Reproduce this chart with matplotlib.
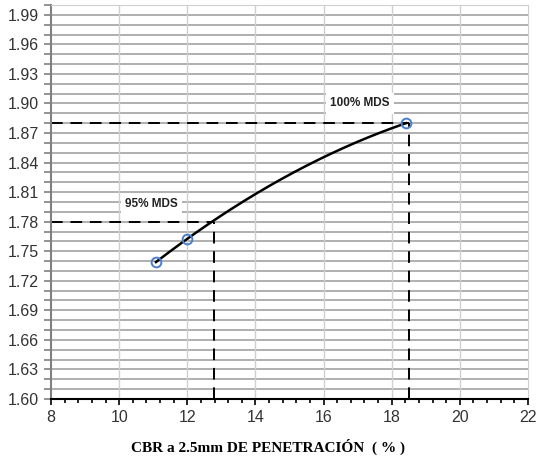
import numpy as np
import matplotlib
matplotlib.use("Agg")
import matplotlib.pyplot as plt
from matplotlib.ticker import MultipleLocator, FixedLocator, FormatStrFormatter

# Data
cbr_pts = [11.08, 12.0, 18.42]
dens_pts = [1.739, 1.7626, 1.880]
cbr95 = 12.79
dens95 = 1.78
cbr100 = 18.5
dens100 = 1.88
label95 = "95% MDS"
label100 = "100% MDS"
xlabel = "CBR a 2.5mm DE PENETRACIÓN  ( % )"
y_ticks = [1.60, 1.63, 1.66, 1.69, 1.72, 1.75, 1.78, 1.81, 1.84, 1.87, 1.90, 1.93, 1.96, 1.99]
x_ticks = [8, 10, 12, 14, 16, 18, 20, 22]

fig = plt.figure(figsize=(5.45, 4.66), dpi=100)
ax = fig.add_axes([0.0936, 0.1438, 0.8752, 0.8455])

ax.set_xlim(8, 22)
ax.set_ylim(1.60, 2.00)

ax.xaxis.set_major_locator(FixedLocator(x_ticks))
ax.xaxis.set_minor_locator(MultipleLocator(0.4))
ax.yaxis.set_major_locator(FixedLocator(y_ticks))
ax.yaxis.set_minor_locator(MultipleLocator(0.01))
ax.yaxis.set_major_formatter(FormatStrFormatter('%.2f'))
for yv in np.arange(1.61, 2.0, 0.01):
    ax.axhline(yv, color='#9a9a9a', lw=1.1, zorder=0)
for xv in x_ticks[1:-1]:
    ax.axvline(xv, color='#cfcfcf', lw=1.0, zorder=0)

# curve (quadratic trend)
coef = np.polyfit(cbr_pts, dens_pts, 2)
xs = np.linspace(cbr_pts[0], cbr_pts[-1], 200)
ax.plot(xs, np.polyval(coef, xs), color='black', lw=1.8, zorder=3)
ax.plot(cbr_pts, dens_pts, linestyle='none', marker='o', markersize=7,
        markerfacecolor='none', markeredgecolor='#4a7ec8', markeredgewidth=1.4, zorder=4)

# dashed reference lines
dash = dict(color='black', lw=1.4, linestyle=(0, (6, 4)), zorder=2)
ax.plot([8, cbr95], [dens95, dens95], **dash)
ax.plot([cbr95, cbr95], [1.60, dens95], **dash)
ax.plot([8, cbr100], [dens100, dens100], **dash)
ax.plot([cbr100, cbr100], [1.60, dens100], **dash)

bbox = dict(facecolor='white', edgecolor='none', pad=3)
ax.text(10.96, 1.7976, label95, ha='center', va='center', fontsize=8.5,
        fontweight='bold', family='Liberation Sans', color='#222222', bbox=bbox, zorder=5)
ax.text(17.07, 1.900, label100, ha='center', va='center', fontsize=8.5,
        fontweight='bold', family='Liberation Sans', color='#222222', bbox=bbox, zorder=5)

# spines
ax.spines['top'].set_color('#cfcfcf')
ax.spines['right'].set_color('#cfcfcf')
ax.spines['left'].set_color('#808080')
ax.spines['left'].set_linewidth(1.5)
ax.spines['bottom'].set_color('black')
ax.spines['bottom'].set_linewidth(1.5)

ax.tick_params(axis='y', which='both', direction='out', color='#808080', width=1.2,
               labelsize=11.5, labelcolor='#333333', length=5)
ax.tick_params(axis='x', which='both', direction='out', color='black', width=1.2,
               labelsize=11.5, labelcolor='#333333', pad=4)
ax.tick_params(axis='x', which='major', length=4)
ax.tick_params(axis='x', which='minor', length=3)
for lab in ax.get_xticklabels() + ax.get_yticklabels():
    lab.set_family('Liberation Sans')

fig.text(268 / 545, 1 - 447 / 466, xlabel, ha='center', va='center', fontsize=11,
         fontweight='bold', family='Liberation Serif')

fig.savefig('out.png', dpi=100)
